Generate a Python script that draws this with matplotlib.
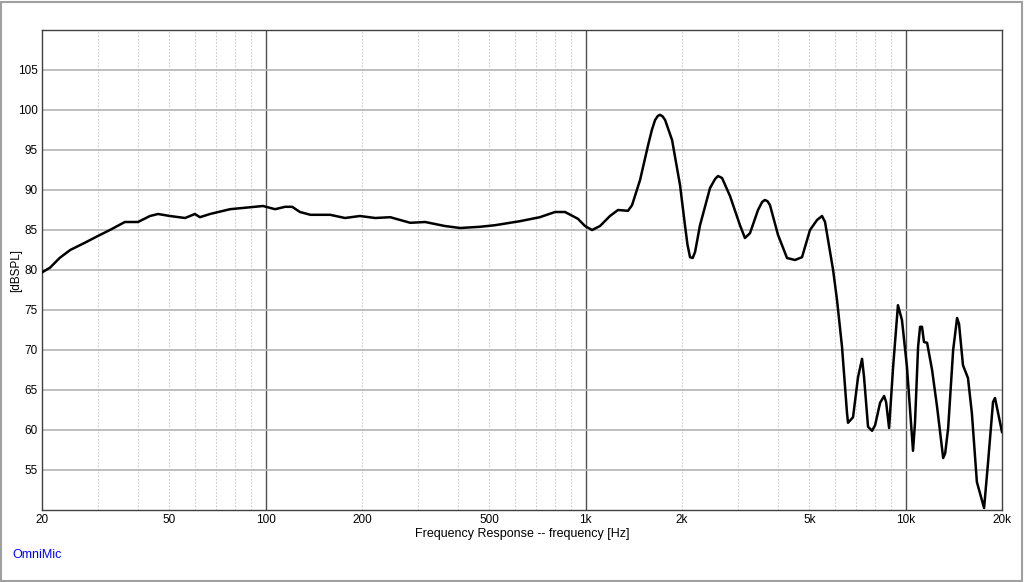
import matplotlib
matplotlib.use("Agg")
import matplotlib.pyplot as plt
from matplotlib.ticker import FixedLocator, NullFormatter

plt.rcParams['font.family'] = ['Liberation Sans', 'DejaVu Sans']

# Frequency response
freq = [20, 21.2, 22.7, 24.5, 27.2, 29.9, 32.6, 36.3, 39.9, 43.5, 46.1, 50.2, 56.0,
        60.1, 62.3, 67.0, 77.4, 92.6, 98.1, 107, 115, 121, 128, 138, 159, 177, 197,
        220, 245, 283, 315, 363, 405, 467, 521, 623, 719, 802, 862, 946, 995, 1047,
        1109, 1191, 1262, 1356, 1396, 1479, 1567, 1610, 1648, 1680, 1707, 1740, 1771,
        1862, 1972, 2043, 2080, 2119, 2160, 2197, 2277, 2447, 2540, 2592, 2668, 2825,
        3035, 3145, 3262, 3456, 3560, 3630, 3700, 3767, 3990, 4258, 4510, 4743, 5024,
        5284, 5478, 5598, 5932, 6102, 6325, 6557, 6605, 6847, 7098, 7306, 7412, 7628,
        7852, 8025, 8319, 8563, 8686, 8876, 9137, 9459, 9736, 10093, 10542, 10694,
        10935, 11092, 11247, 11409, 11667, 12093, 12535, 13099, 13289, 13577, 14073,
        14476, 14682, 15103, 15655, 16103, 16693, 17581, 18086, 18749, 19018, 20000]
spl = [79.7, 80.3, 81.5, 82.5, 83.4, 84.25, 85.0, 86.0, 86.0, 86.75, 87.0, 86.75, 86.5,
       87.0, 86.6, 87.0, 87.6, 87.9, 88.0, 87.6, 87.9, 87.9, 87.25, 86.9, 86.9, 86.5,
       86.75, 86.5, 86.6, 85.9, 86.0, 85.5, 85.25, 85.4, 85.6, 86.1, 86.6, 87.25,
       87.25, 86.4, 85.5, 85.0, 85.5, 86.75, 87.5, 87.4, 88.1, 91.25, 95.6, 97.5,
       98.75, 99.25, 99.4, 99.2, 98.75, 96.25, 90.6, 85.6, 83.2, 81.6, 81.5, 82.25,
       85.6, 90.25, 91.4, 91.75, 91.5, 89.25, 85.6, 84.0, 84.6, 87.5, 88.5, 88.75,
       88.6, 88.1, 84.4, 81.5, 81.25, 81.6, 85.0, 86.25, 86.75, 86.0, 80.0, 76.25,
       70.4, 62.1, 60.9, 61.6, 66.6, 68.9, 66.6, 60.4, 59.9, 60.6, 63.4, 64.25, 63.5,
       60.25, 67.9, 75.6, 73.75, 67.9, 57.4, 60.9, 70.4, 72.9, 72.9, 71.0, 70.9, 67.5,
       62.9, 56.5, 57.1, 60.25, 70.0, 74.0, 73.25, 68.1, 66.5, 62.1, 53.5, 50.25,
       55.9, 63.5, 64.0, 59.75]

xticks = [20, 50, 100, 200, 500, 1000, 2000, 5000, 10000, 20000]
xlabels = ['20', '50', '100', '200', '500', '1k', '2k', '5k', '10k', '20k']
yticks = [55, 60, 65, 70, 75, 80, 85, 90, 95, 100, 105]

fig = plt.figure(figsize=(10.24, 5.82), dpi=100)
ax = fig.add_axes([42 / 1024, 72 / 582, 960 / 1024, 480 / 582])

# frame around the whole picture
fig.patches.append(plt.Rectangle((0.001, 0.002), 0.997, 0.995, transform=fig.transFigure,
                                 fill=False, edgecolor='#a0a0a0', linewidth=1.5))

ax.set_xscale('log')
ax.set_xlim(20, 20000)
ax.set_ylim(50, 110)

# grid
minor = [m * d for d in (10, 100, 1000, 10000) for m in range(2, 10) if 20 < m * d < 20000]
for f in minor:
    ax.axvline(f, color='#cccccc', lw=0.8, ls=(0, (1.5, 1.5)), zorder=1)
for f in (100, 1000, 10000):
    ax.axvline(f, color='#505050', lw=1.0, zorder=1)
for y in yticks:
    ax.axhline(y, color='#b4b4b4', lw=1.2, zorder=1)

ax.plot(freq, spl, color='black', lw=1.8, zorder=3, solid_joinstyle='round')

ax.xaxis.set_major_locator(FixedLocator(xticks))
ax.set_xticklabels(xlabels)
ax.xaxis.set_minor_locator(FixedLocator([]))
ax.xaxis.set_minor_formatter(NullFormatter())
ax.set_yticks(yticks)
ax.tick_params(length=0, labelsize=8.5, pad=3)

for s in ax.spines.values():
    s.set_color('#404040')
    s.set_linewidth(1.0)

ax.set_xlabel('Frequency Response -- frequency [Hz]', fontsize=9, labelpad=1)
ax.set_ylabel('[dBSPL]', fontsize=8.5)
ax.yaxis.set_label_coords(-0.021, 0.5)

fig.text(12 / 1024, 1 - 555 / 582, 'OmniMic', color='#0000ff', fontsize=9, va='center')

fig.savefig('out.png', dpi=100)
